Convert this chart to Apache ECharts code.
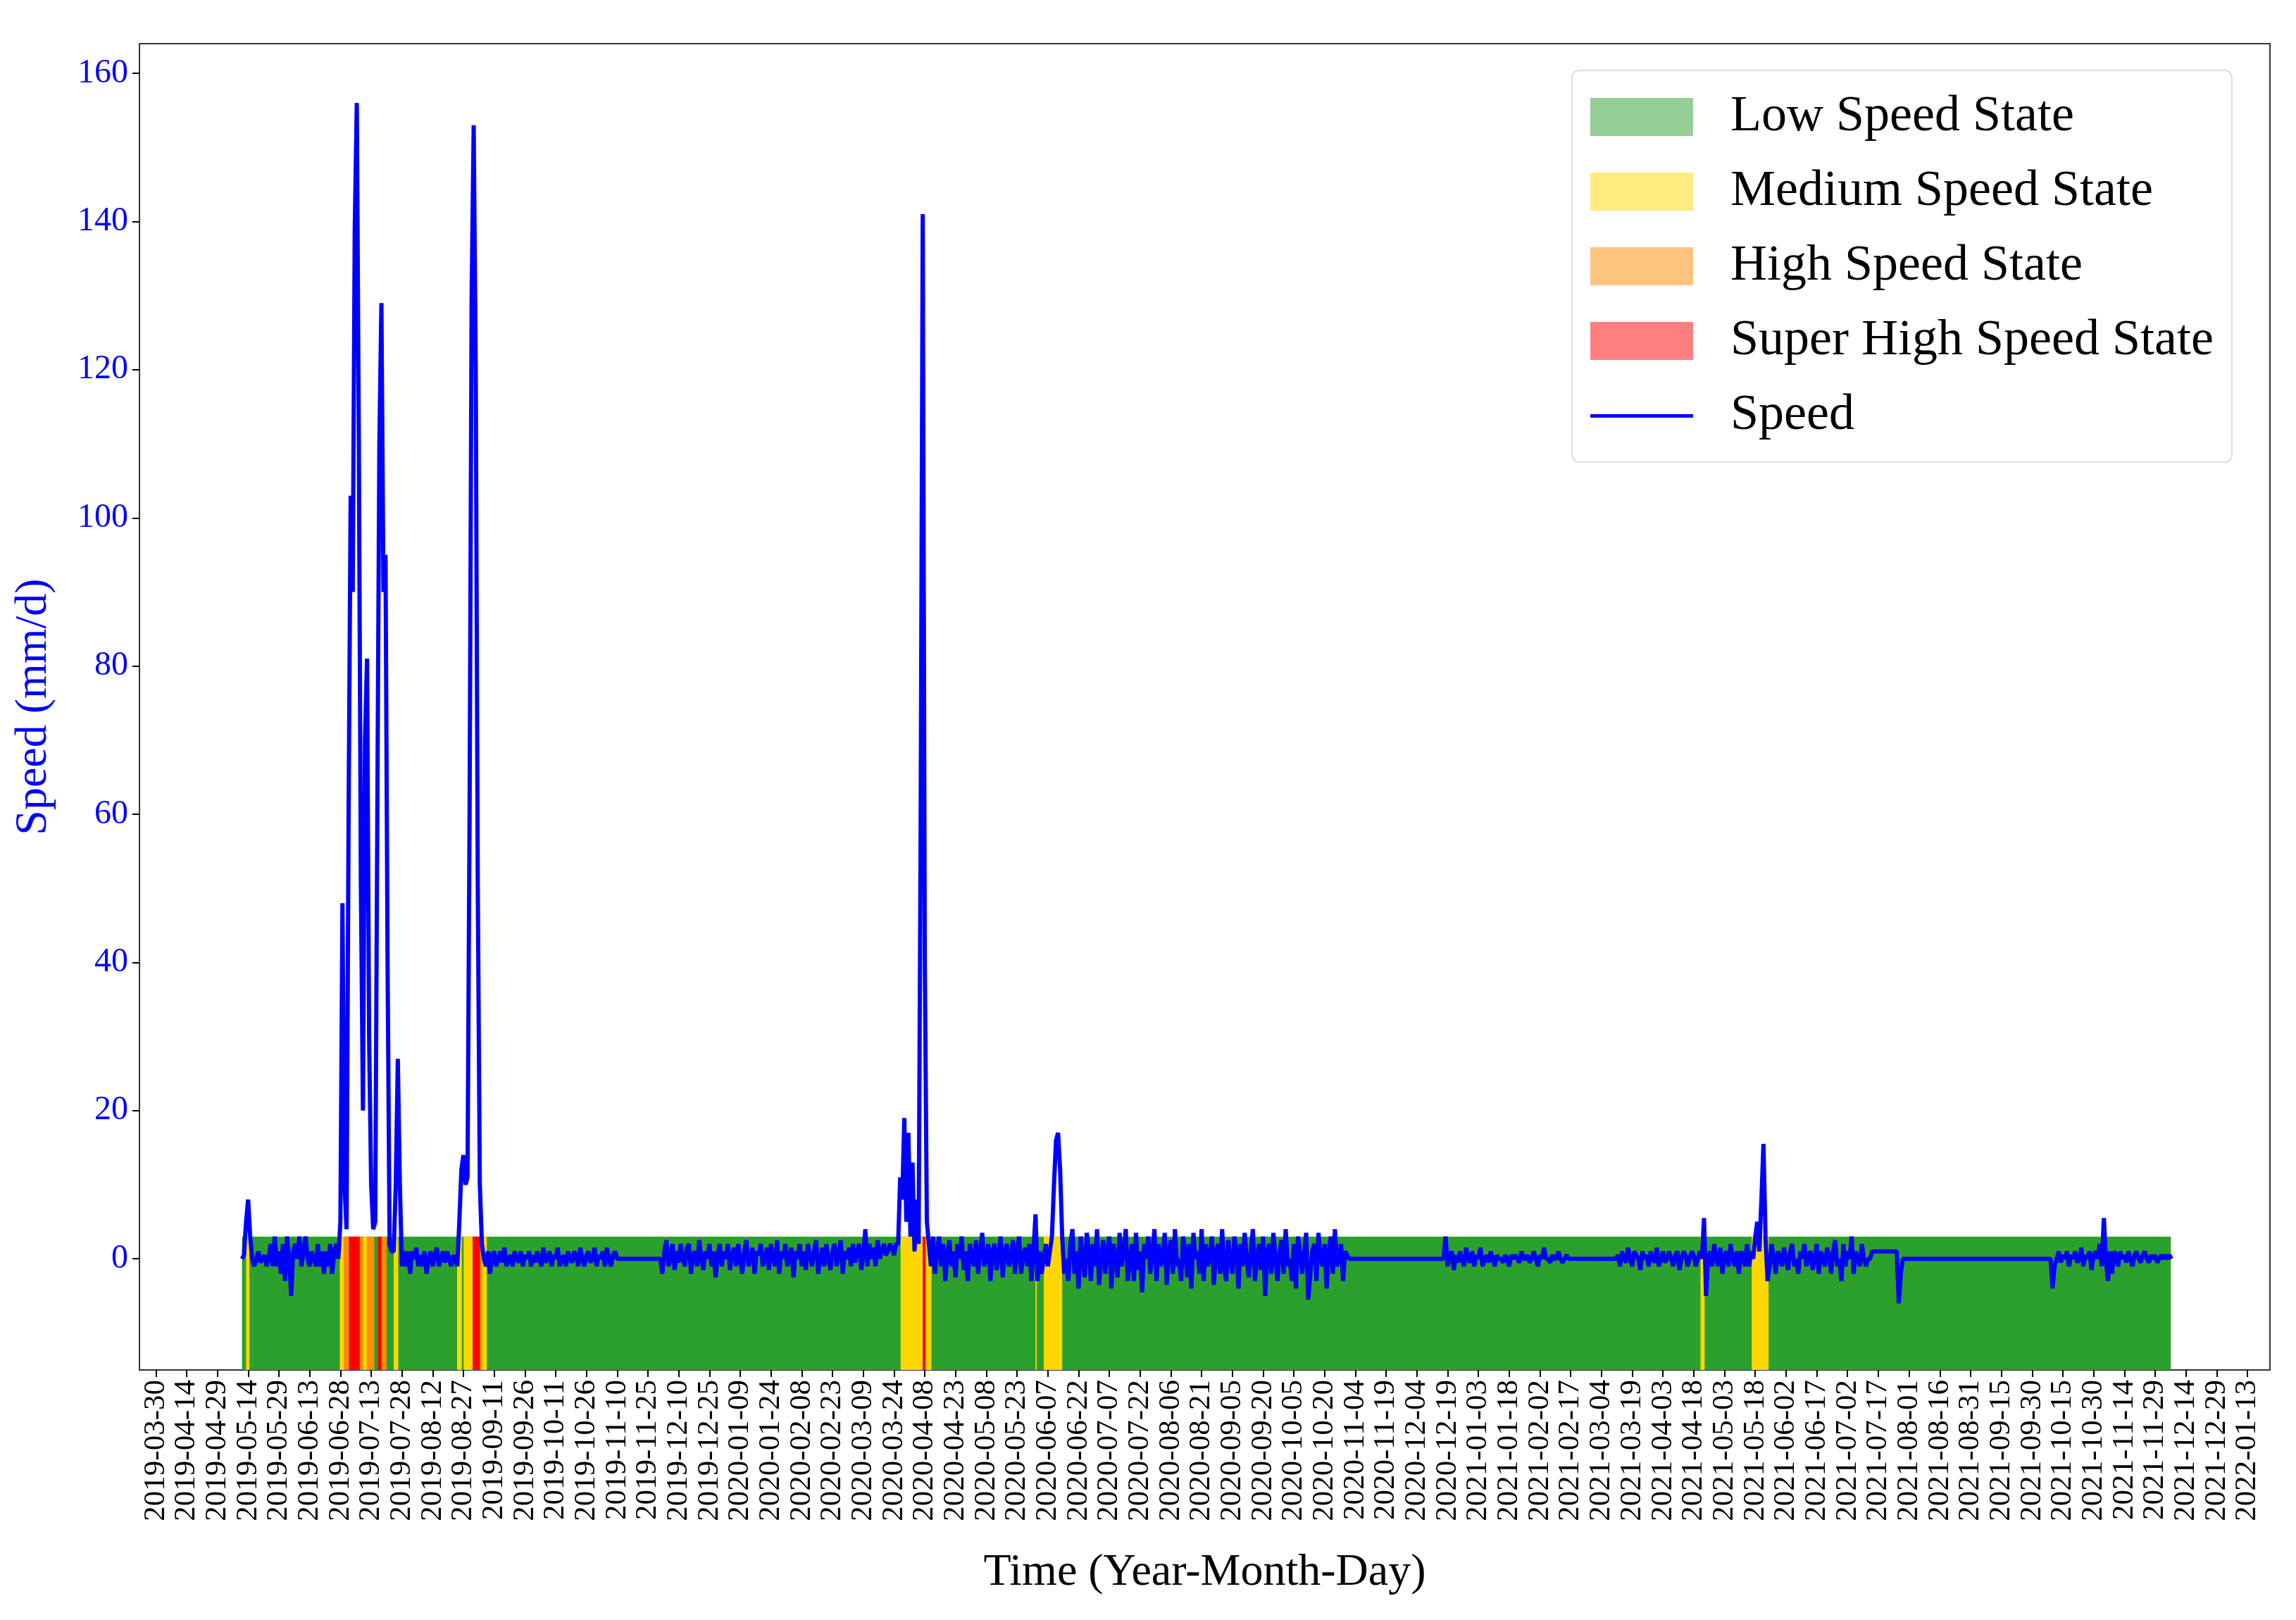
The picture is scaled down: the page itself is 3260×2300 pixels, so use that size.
<!DOCTYPE html>
<html><head><meta charset="utf-8">
<script src="https://cdn.jsdelivr.net/npm/echarts@6/dist/echarts.min.js"></script>
<style>html,body{margin:0;padding:0;background:#fff}#c{width:3260px;height:2300px}</style>
</head><body><div id="c"></div>
<script>
// Day offsets are counted from BASE_DATE (2019-03-30)
const BASE_DATE = Date.UTC(2019, 2, 30);
const xTickDays = []; for (let d = 0; d <= 1020; d += 15) xTickDays.push(d);
const yTicks = [0, 20, 40, 60, 80, 100, 120, 140, 160];

// Speed segments: [startDay, [daily values...]]
const segA = [42, [0,0.5,5,8,3,0,-1,0,1,-0.5,0,0.5,-1,0,2,-1,3,-1,1,-2,2,-3,3,0,-5,1,2,0,3,-1,1,3,0,-1,1,0,-1,2,-1,1,-2,1,-1,2,-2,1,2,0]];
const segB = [90, [5,48,10,4,60,103,90,139,156,110,50,20,70,81,30,10,4,5,60,110,129,90,95,40,2,1,1,10,27,10,-1,1]];
const segC = [122, [-1,1,-2,1,0,1.5,-1,0.5,-1,1,-2,0,1,-1,0.5,1.5,-1,0,1,-0.5,1,0,-1,0.5,0]];
const segD = [147, [-1,5,12,14,10,11,60,130,153,120,50,10,2,0]];
const segN1 = [161, [-1,1,-2,0.5,1,-1,0,1,-0.5,1.5,-1,0,0.5,-1,1,0,-0.5,1,-1,0.5,0,1,-1,0.5,-0.5,1,0,-1,1.5,-0.5,0,1,-1,0.5,0,1.5,-1,0,0.5,-1,1,0,-0.5,1,0.5,-1,1.5,0,-1,0.5,1,-0.5,0,1.5,-1,0.5,0,1,-1,1.5,0,-1,0.5,1,0]];
const segF1 = [226, [0]];
const segF2 = [246, [0]];
const segN2 = [247, [-2,1,2.5,-1,0,2,-1.5,1,-0.5,2, 0,-1,1.5,2,-2,0.5,1,-1,2.5,0, -1.5,1,0,2,-1,1,-2.5,0.5,2,-1, 1,0,2,-1.5,0.5,1.5,-1,2,0,-2, 1,2.5,-1,0,1.5,-2,1,0.5,2,-1, 0,1.5,-1.5,2,0,-1,2.5,-2,1,0, 2,-1,0.5,1.5,-2.5,1,0,2,-1,1, -1.5,2,0.5,-1,1,2.5,-2,0,1.5,-1, 2,0,-1.5,1,2,-1,0.5,2.5,-2,1, 0,1.5,-1,2,-0.5,1,2,-1.5,0.5,4, -1,2,0,1.5,-1,2.5,0,1,2,0.5, 1,2,1.5,0.5,2]];
const segE = [362, [2,11,8,19,5,17,3,13,1,8,2,60,141,40,5,2,-1,3]];
const segN3 = [380, [-2,1,3,-1,2,-3,0.5,2.5,-1,1, -2.5,2,0,3,-1.5,1,-3,2,0.5,-1, 2.5,-2,1,3.5,-1,0,2,-3,1,2, -1.5,0.5,3,-2.5,1,2,-1,0,2.5,-2, 1,3,-2,0.5,1.5,-1,2,-3,1]];
const segG = [429, [6,-3,1,-2,0,2,-1,1,3,10,16,17,12,3,-2,0]];
const segN4 = [445, [-3,2,4,-2,1,-4,3,0,-2.5,3.5, 1,-3,2,-1,4,-3.5,0,2.5,-2,1, 3,-4,2,0,-2.5,3.5,-1,1,4,-3, 0,2,-3,3.5,-1.5,1,-4.5,2,0,3, -2,1,4,-3,2,-1,0,3.5,-3.5,1, 2.5,-2,4,-1,0,-3,3,1,-2.5,2, -4,3.5,0,1,-2,4,-3,2,-1,0.5, 3,-3.5,1,2,-2,4,-1,-3,2.5,0, -2,3,1,-4,2,-1,3.5,0,-2.5,1, 4,-3,0,2,-1.5,3,-5,1,2,-2, 3.5,0,-3,1,2.5,-2,4,-1,0,-3, 2,-4,3,1,-2,0.5,3.5,-5.5,-2,1, 2,-3,3.5,0,-1,2,-4,1,3,-2, 4,-1,0,2,-3,1,0.5]];
const segF3 = [582, [0]];
const segF4 = [628, [0]];
const segN5 = [629, [3,-1,0.5,1,-1.5,0.5,-0.5,1,0,-1, 1.5,0,-0.5,1,-1,0.5,0,1.5,-1,0, 0.5,-0.5,1,0,-1,0.5,0,0,-0.5,0.5, 0,-1,0.5,0,0.5,0,-0.5,1,0,0, 0.5,-0.5,0,1,0,-1,0.5,0,1.5,0, 0,-0.5,0.5,0,0,1,0,-0.5,0,0.5, 0,0,0,0,0,0,0,0,0,0, 0,0,0,0,0,0,0,0,0,0, 0,0,0,0,0.5,-1,1,0,-0.5,1.5, 0,-1,1,0.5,0,-1.5,1,0,0.5,-1, 1,0,-0.5,1.5,-1,0,1,-0.5,0,1, 0,-1,0.5,1,-1.5,0,1,0.5,-1,0, 1,0.5,-1,0]];
const segH = [753, [1,0,5.5,-5,0,1,-1,2,0,-1,1.5,-2,0.5,1,-1,2,0,-1,1,-2,1,0.5,-1,2,-1,1,0,3,5,1,8,15.5,3,-3]];
const segN6 = [787, [-1,2,0,-2,1,0.5,-1,1.5,0,-1.5, 1,2,-1,0,-2,1,0,2,-1,0.5, 1,-1.5,0,2,-2,1,0,-1,1.5,0.5, -2,1,2.5,-1,0,-3,2,-1,1,0, 3,-2,1,0,-1,2,0,-1,0]];
const segI = [836, [0,1,1,1,1,1,1,1,1,1,1,1,1,1,-6,-2,0]];
const segF5 = [924, [0,-4,-1,0]];
const segN7 = [928, [1,-0.5,0.5,0,1,-1,0.5,0,1,-0.5, 0,1.5,-1,0.5,0,1,-1.5,0.5,1,0, 2,-1,5.5,0,-3,1,-2,1,0.5,-1, 1,0,0.5,-0.5,1,0,-1,0.5,1,0, -0.5,0.5,1,0,-0.5,0.5,0,0.5,-0.5,0, 0.5,0,0.5,0,0.5,0]];
const speedSegments = [segA, segB, segC, segD, segN1, segF1, segF2, segN2, segE, segN3, segG, segN4, segF3, segF4, segN5, segH, segN6, segI, segF5, segN7];

// State bands: [startDay, endDay]
const lowBands = [[42, 982.7]];
const mediumBands = [[44, 45.6], [89.7, 91.6], [101.1, 102.9], [116, 118.2], [146.9, 149.2], [150.1, 154.5], [159, 161.4], [363.2, 374], [375.4, 378.2], [429, 429.6], [433, 442], [753.3, 755.3], [778.3, 786.5]];
const highBands = [[91.6, 94.2], [99.4, 101.1], [102.9, 106.5], [110, 112.5], [158, 159]];
const superBands = [[94.2, 99.4], [108.3, 110], [154.5, 158], [374, 375.4]];

const FONT = 'Liberation Serif';
const speedData = [];
speedSegments.slice().sort((a, b) => a[0] - b[0]).forEach(([s, vals]) => vals.forEach((v, i) => speedData.push([s + i, v])));

function fmt(d) {
  const t = new Date(BASE_DATE + d * 86400000);
  const p = n => String(n).padStart(2, '0');
  return t.getUTCFullYear() + '-' + p(t.getUTCMonth() + 1) + '-' + p(t.getUTCDate());
}
function bandSeries(name, bands, color, legendColor) {
  return {
    name, type: 'line', data: [], color: legendColor, silent: true,
    markArea: { silent: true, itemStyle: { color, opacity: 1 },
      data: bands.map(([s, e]) => [{ xAxis: s, yAxis: -15 }, { xAxis: e, yAxis: 3 }]) }
  };
}
const lineIcon = 'path://M0,0L146,0L146,0.01Z M0,25L146,25L146,30L0,30Z M0,54L146,54L146,54.01Z';

const chart = echarts.init(document.getElementById('c'));
chart.setOption({
  animation: false,
  backgroundColor: '#fff',
  textStyle: { fontFamily: FONT },
  grid: { left: 198, right: 37, top: 62, bottom: 355, show: true, borderColor: '#333', borderWidth: 2, backgroundColor: 'transparent' },
  legend: {
    orient: 'vertical', left: 2232, top: 100,
    itemWidth: 146, itemHeight: 54, itemGap: 34,
    padding: [30, 26, 30, 26],
    borderColor: '#ddd', borderWidth: 2, borderRadius: 10, backgroundColor: '#fff',
    textStyle: { fontFamily: FONT, fontSize: 72, color: '#000', padding: [0, 0, 0, 48] },
    data: [
      { name: 'Low Speed State', icon: 'rect' },
      { name: 'Medium Speed State', icon: 'rect' },
      { name: 'High Speed State', icon: 'rect' },
      { name: 'Super High Speed State', icon: 'rect' },
      { name: 'Speed', icon: lineIcon, itemStyle: { color: '#0000ff' } }
    ]
  },
  xAxis: {
    type: 'value', min: -8, max: 1031,
    name: 'Time (Year-Month-Day)', nameLocation: 'middle', nameGap: 256,
    nameTextStyle: { fontFamily: FONT, fontSize: 64, color: '#000' },
    axisLine: { onZero: false, lineStyle: { color: '#333', width: 2 } },
    axisTick: { customValues: xTickDays, length: 10, lineStyle: { color: '#000', width: 2 } },
    axisLabel: { customValues: xTickDays, rotate: 90, fontSize: 43, color: '#000', fontFamily: FONT, margin: 14, formatter: v => fmt(v) },
    splitLine: { show: false }
  },
  yAxis: {
    type: 'value', min: -15, max: 164,
    name: 'Speed (mm/d)', nameLocation: 'middle', nameGap: 118,
    nameTextStyle: { fontFamily: FONT, fontSize: 64, color: '#0000ff' },
    axisLine: { show: true, onZero: false, lineStyle: { color: '#333', width: 2 } },
    axisTick: { show: true, customValues: yTicks, length: 10, lineStyle: { color: '#000', width: 2 } },
    axisLabel: { customValues: yTicks, fontSize: 48, color: '#0000ff', fontFamily: FONT, margin: 16 },
    splitLine: { show: false }
  },
  series: [
    bandSeries('Low Speed State', lowBands, '#2ca02c', '#95cf95'),
    bandSeries('Medium Speed State', mediumBands, '#ffd700', '#ffeb7f'),
    bandSeries('High Speed State', highBands, '#ff8c00', '#ffc57f'),
    bandSeries('Super High Speed State', superBands, '#ff0000', '#ff7f7f'),
    { name: 'Speed', type: 'line', data: speedData, showSymbol: false, symbol: 'none', z: 10,
      color: '#0000ff', lineStyle: { color: '#0000ff', width: 6 } }
  ]
});
</script></body></html>
